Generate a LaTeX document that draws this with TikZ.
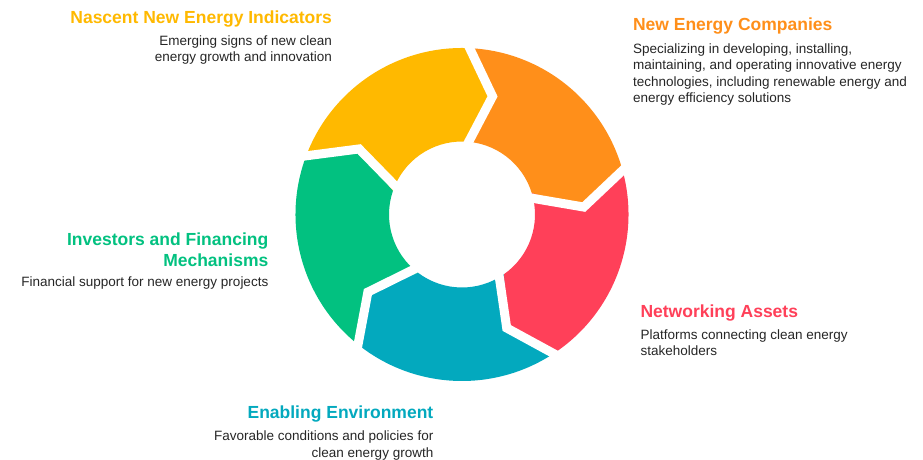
\documentclass[tikz,border=0pt]{standalone}
\usepackage{fontspec}
\setmainfont{Liberation Sans}
\usetikzlibrary{positioning}
\definecolor{cyellow}{HTML}{FFB900}
\definecolor{corange}{HTML}{FF8F1A}
\definecolor{cred}{HTML}{FF4059}
\definecolor{cteal}{HTML}{03A9BE}
\definecolor{cgreen}{HTML}{02C180}
\definecolor{textgray}{HTML}{262626}
\tikzset{
  every node/.style={inner sep=0pt, outer sep=0pt},
  heading/.style={font=\bfseries\fontsize{17.5bp}{21.2bp}\selectfont},
  blurb/.style={font=\fontsize{13.5bp}{16.5bp}\selectfont, text=textgray},
  gap/.style={draw=white, line width=9bp, line join=miter},
}

\begin{document}
\begin{tikzpicture}[x=1bp, y=1bp]
  \fill[white] (0,0) rectangle (923,460);
  \useasboundingbox (0,0) rectangle (923,460);

  \begin{scope}[shift={(462,245.5)}]
    \foreach \a/\c in {89/corange, 17/cred, -55/cteal, -127/cgreen, -199/cyellow}
      \fill[\c] (\a:166.5bp) arc[start angle=\a, end angle=\a-72, radius=166.5bp]
        -- (\a-85.5:122bp) -- (\a-72:73bp)
        arc[start angle=\a-72, end angle=\a, radius=73bp]
        -- (\a-13.5:122bp) -- cycle;
    \foreach \a in {89, 17, -55, -127, -199}
      \draw[gap] (\a:176bp) -- (\a-13.5:122bp) -- (\a:62bp);
  \end{scope}

  % base anchors of multi-line nodes sit on their last line
  \node[heading, text=cyellow, anchor=base east] (nni) at (332,436.7) {Nascent New Energy Indicators};
  \node[blurb, align=right, anchor=base east] (nniText) at ([yshift=-38.4bp]nni.base east)
    {Emerging signs of new clean\\energy growth and innovation};

  \node[heading, text=corange, anchor=base west] (nec) at (633,429.3) {New Energy Companies};
  \node[blurb, align=left, anchor=base west] (necText) at ([yshift=-72.3bp]nec.base west)
    {Specializing in developing, installing,\\maintaining, and operating innovative energy\\technologies, including renewable energy and\\energy efficiency solutions};

  \node[heading, text=cred, anchor=base west] (na) at (640.5,142.3) {Networking Assets};
  \node[blurb, align=left, anchor=base west] (naText) at ([yshift=-38bp]na.base west)
    {Platforms connecting clean energy\\stakeholders};

  \node[heading, text=cteal, anchor=base east] (ee) at (433.3,41.7) {Enabling Environment};
  \node[blurb, align=right, anchor=base east] (eeText) at ([yshift=-39bp]ee.base east)
    {Favorable conditions and policies for\\clean energy growth};

  \node[heading, text=cgreen, align=right, anchor=base east] (ifm) at (268.3,193.1) {Investors and Financing\\Mechanisms};
  \node[blurb, align=right, anchor=base east] (ifmText) at ([yshift=-19.6bp]ifm.base east)
    {Financial support for new energy projects};
\end{tikzpicture}
\end{document}
